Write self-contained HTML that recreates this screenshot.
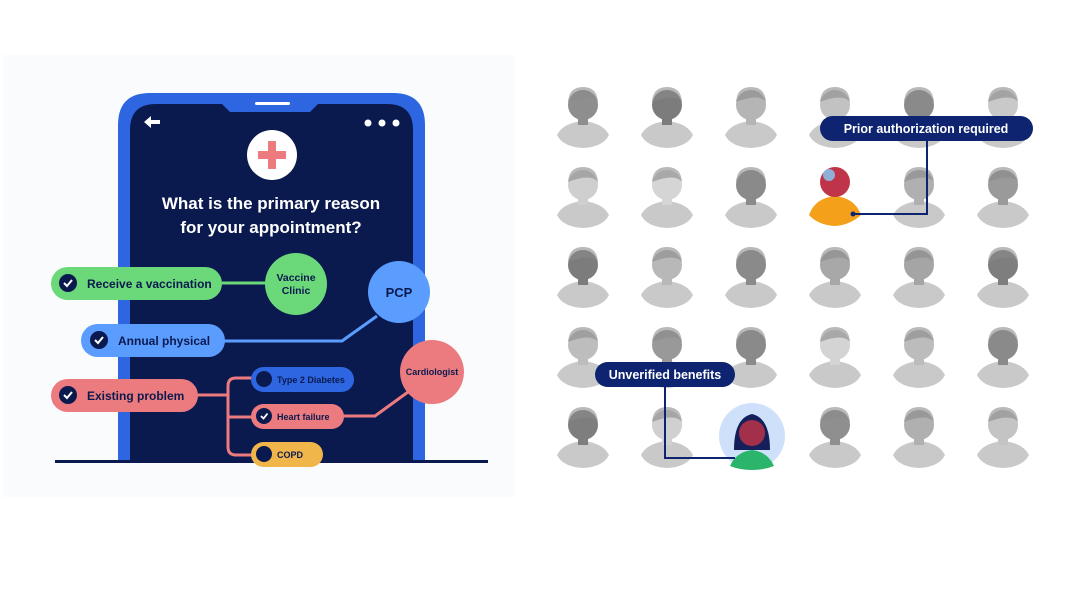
<!DOCTYPE html>
<html><head><meta charset="utf-8"><style>
html,body{margin:0;padding:0;background:#fff;}
svg{display:block;font-family:"Liberation Sans",sans-serif;}
</style></head><body>
<svg width="1076" height="600" viewBox="0 0 1076 600" xmlns="http://www.w3.org/2000/svg">
<defs>
<g id="av">
<path d="M-26,30 Q-20,18 0,16 Q20,18 26,30 Q20,42 0,43 Q-20,42 -26,30 Z" fill="#c9c9c9"/>
<rect x="-5" y="8" width="10" height="12" fill="currentColor"/>
<circle cx="0" cy="0" r="15" fill="currentColor"/>
<path d="M-15,-3 Q-14,-18 0,-18 Q14,-18 15,-3 Q8,-12 -15,-3Z" fill="#8a8a8a" opacity="0.6"/>
</g>
</defs>
<rect x="3" y="55" width="512" height="442" fill="#fafbfc"/>
<!-- phone -->
<path d="M118,460 V125 Q118,93 150,93 H393 Q425,93 425,125 V460 Z" fill="#2d66e0"/>
<path d="M130,460 V130 Q130,104 156,104 H222 L230,112 H310 L318,104 H387 Q413,104 413,130 V460 Z" fill="#0b1a4e"/>
<rect x="255" y="102" width="35" height="3" rx="1.5" fill="#fff"/>
<path d="M144,122 L151,116 V120 H160 V124 H151 V128 Z" fill="#fff"/>
<circle cx="368" cy="123" r="3.5" fill="#fff"/><circle cx="382" cy="123" r="3.5" fill="#fff"/><circle cx="396" cy="123" r="3.5" fill="#fff"/>
<circle cx="272" cy="155" r="25" fill="#fff"/>
<rect x="258" y="151" width="28" height="8" fill="#ec7b7f"/><rect x="268" y="141" width="8" height="28" fill="#ec7b7f"/>
<text x="271" y="209" text-anchor="middle" font-size="17" font-weight="bold" fill="#fff">What is the primary reason</text>
<text x="271" y="233" text-anchor="middle" font-size="17" font-weight="bold" fill="#fff">for your appointment?</text>
<rect x="55" y="460" width="433" height="3" fill="#0b1a4e"/>
<!-- connectors -->
<line x1="215" y1="283" x2="268" y2="283" stroke="#6bd87a" stroke-width="3"/>
<path d="M220,341 H342 L377,316" fill="none" stroke="#5b9cff" stroke-width="3"/>
<path d="M195,395 H228 M252,378 H236 Q228,378 228,386 V447 Q228,455 236,455 H252 M228,417 H252" fill="none" stroke="#ec7b7f" stroke-width="3"/>
<path d="M340,416 H375 L408,392" fill="none" stroke="#ec7b7f" stroke-width="3"/>
<!-- pills -->
<rect x="51" y="267" width="171" height="33" rx="16.5" fill="#6bd87a"/>
<circle cx="68" cy="283" r="9" fill="#0b1a4e"/><path d="M64,283 l3,3 l5,-6" stroke="#fff" stroke-width="2" fill="none"/>
<text x="87" y="288" font-size="12" font-weight="bold" fill="#0b1a4e">Receive a vaccination</text>
<circle cx="296" cy="284" r="31" fill="#6bd87a"/>
<text x="296" y="281" text-anchor="middle" font-size="10.5" font-weight="bold" fill="#0b1a4e">Vaccine</text>
<text x="296" y="294" text-anchor="middle" font-size="10.5" font-weight="bold" fill="#0b1a4e">Clinic</text>
<circle cx="399" cy="292" r="31" fill="#5b9cff"/>
<text x="399" y="297" text-anchor="middle" font-size="13" font-weight="bold" fill="#0b1a4e">PCP</text>
<rect x="81" y="324" width="144" height="33" rx="16.5" fill="#5b9cff"/>
<circle cx="99" cy="340" r="9" fill="#0b1a4e"/><path d="M95,340 l3,3 l5,-6" stroke="#fff" stroke-width="2" fill="none"/>
<text x="118" y="345" font-size="12" font-weight="bold" fill="#0b1a4e">Annual physical</text>
<circle cx="432" cy="372" r="32" fill="#ec7b7f"/>
<text x="432" y="375" text-anchor="middle" font-size="9" font-weight="bold" fill="#0b1a4e">Cardiologist</text>
<rect x="51" y="379" width="147" height="33" rx="16.5" fill="#ec7b7f"/>
<circle cx="68" cy="395" r="9" fill="#0b1a4e"/><path d="M64,395 l3,3 l5,-6" stroke="#fff" stroke-width="2" fill="none"/>
<text x="87" y="400" font-size="12" font-weight="bold" fill="#0b1a4e">Existing problem</text>
<rect x="251" y="367" width="103" height="25" rx="12.5" fill="#2d66e0"/>
<circle cx="264" cy="379" r="8" fill="#0b1a4e"/>
<text x="277" y="383" font-size="9" font-weight="bold" fill="#0b1a4e">Type 2 Diabetes</text>
<rect x="251" y="404" width="93" height="25" rx="12.5" fill="#ec7b7f"/>
<circle cx="264" cy="416" r="8" fill="#0b1a4e"/><path d="M261,416 l2.5,2.5 l4,-5" stroke="#fff" stroke-width="1.8" fill="none"/>
<text x="277" y="420" font-size="9" font-weight="bold" fill="#0b1a4e">Heart failure</text>
<rect x="251" y="442" width="72" height="25" rx="12.5" fill="#f1b64a"/>
<circle cx="264" cy="454" r="8" fill="#0b1a4e"/>
<text x="277" y="458" font-size="9" font-weight="bold" fill="#0b1a4e">COPD</text>
<!-- avatars -->
<g>
<use href="#av" x="583" y="105" color="#8e8e8e"/><use href="#av" x="667" y="105" color="#7c7c7c"/><use href="#av" x="751" y="105" color="#b5b5b5"/><use href="#av" x="835" y="105" color="#c2c2c2"/><use href="#av" x="919" y="105" color="#8a8a8a"/><use href="#av" x="1003" y="105" color="#c9c9c9"/>
<use href="#av" x="583" y="185" color="#cfcfcf"/><use href="#av" x="667" y="185" color="#d5d5d5"/><use href="#av" x="751" y="185" color="#8a8a8a"/><use href="#av" x="919" y="185" color="#b0b0b0"/><use href="#av" x="1003" y="185" color="#9a9a9a"/>
<use href="#av" x="583" y="265" color="#7c7c7c"/><use href="#av" x="667" y="265" color="#b8b8b8"/><use href="#av" x="751" y="265" color="#8a8a8a"/><use href="#av" x="835" y="265" color="#a8a8a8"/><use href="#av" x="919" y="265" color="#a5a5a5"/><use href="#av" x="1003" y="265" color="#7e7e7e"/>
<use href="#av" x="583" y="345" color="#bdbdbd"/><use href="#av" x="667" y="345" color="#999"/><use href="#av" x="751" y="345" color="#8a8a8a"/><use href="#av" x="835" y="345" color="#d4d4d4"/><use href="#av" x="919" y="345" color="#bcbcbc"/><use href="#av" x="1003" y="345" color="#8a8a8a"/>
<use href="#av" x="583" y="425" color="#7e7e7e"/><use href="#av" x="667" y="425" color="#d0d0d0"/><use href="#av" x="835" y="425" color="#8f8f8f"/><use href="#av" x="919" y="425" color="#b0b0b0"/><use href="#av" x="1003" y="425" color="#c4c4c4"/>
</g>
<!-- highlighted red avatar -->
<path d="M809,215 Q815,198 835,196 Q855,198 861,215 Q850,225 835,226 Q818,225 809,215Z" fill="#f5a01a"/>
<circle cx="835" cy="182" r="15" fill="#c0344a"/>
<circle cx="829" cy="175" r="6" fill="#8fb0d6"/>
<!-- highlighted girl -->
<circle cx="752" cy="436" r="33" fill="#cfe0fb"/>
<path d="M734,450 Q734,418 752,414 Q770,418 770,450 Z" fill="#15205a"/>
<circle cx="752" cy="433" r="13" fill="#a3304a"/>
<path d="M730,466 Q736,452 752,450 Q768,452 774,466 Q764,470 752,470 Q740,470 730,466Z" fill="#2bb56a"/>
<!-- labels -->
<path d="M927,138 V214 H853" fill="none" stroke="#0e2470" stroke-width="2"/>
<circle cx="853" cy="214" r="2.5" fill="#0e2470"/>
<rect x="820" y="116" width="213" height="25" rx="12.5" fill="#0e2470"/>
<text x="926" y="133" text-anchor="middle" font-size="12.5" font-weight="bold" fill="#fff">Prior authorization required</text>
<path d="M665,385 V458 H735" fill="none" stroke="#0e2470" stroke-width="2"/>
<rect x="595" y="362" width="140" height="25" rx="12.5" fill="#0e2470"/>
<text x="665" y="379" text-anchor="middle" font-size="12.5" font-weight="bold" fill="#fff">Unverified benefits</text>
</svg>
</body></html>
